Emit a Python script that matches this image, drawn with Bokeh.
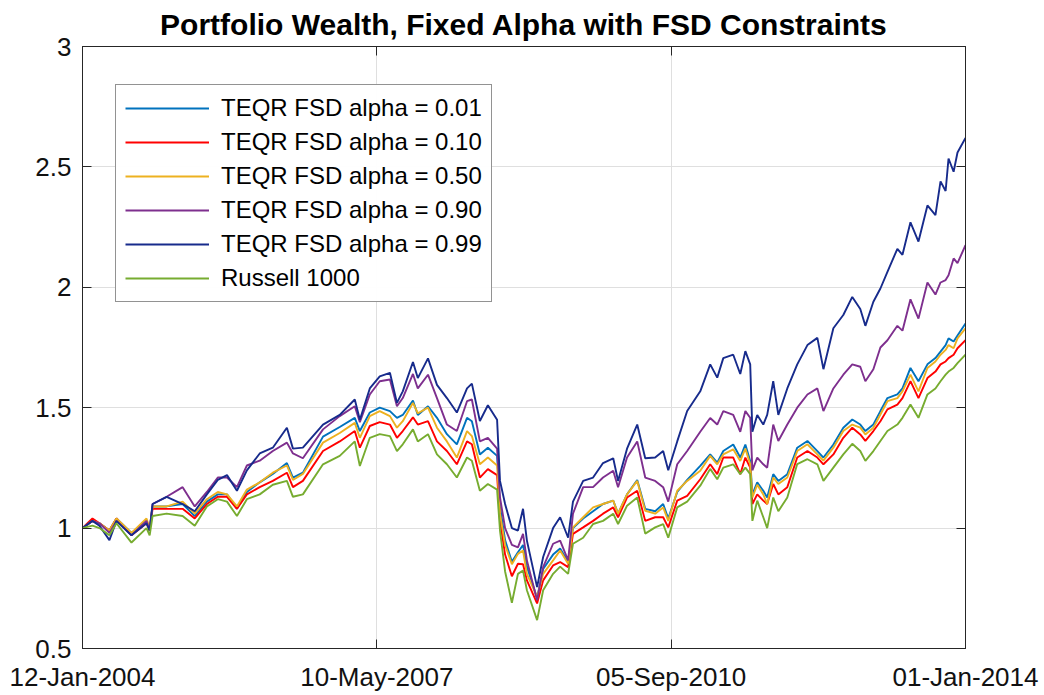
import pandas as pd
from bokeh.plotting import figure
from bokeh.models import (FixedTicker, LinearAxis, DatetimeAxis, CustomJSTickFormatter,
                          DatetimeTickFormatter, Legend, LegendItem, Range1d)
from bokeh.embed import file_html
from bokeh.resources import INLINE

# ---------------- data ----------------
dates = [
    "2004-01-12", "2004-02-22", "2004-03-22", "2004-05-02", "2004-05-31", "2004-08-01",
    "2004-10-02", "2004-10-15", "2004-10-27", "2004-12-24", "2005-02-28", "2005-04-19",
    "2005-06-08", "2005-07-23", "2005-08-30", "2005-10-10", "2005-11-20", "2006-01-12",
    "2006-03-07", "2006-05-04", "2006-05-29", "2006-07-09", "2006-09-30", "2006-12-08",
    "2007-02-08", "2007-03-01", "2007-04-11", "2007-05-22", "2007-07-03", "2007-08-01",
    "2007-08-25", "2007-10-06", "2007-10-26", "2007-12-07", "2008-01-13", "2008-02-23",
    "2008-04-04", "2008-05-16", "2008-06-05", "2008-07-08", "2008-08-10", "2008-09-17",
    "2008-09-29", "2008-10-20", "2008-11-17", "2008-12-12", "2009-01-02", "2009-01-18",
    "2009-03-01", "2009-03-26", "2009-05-06", "2009-06-04", "2009-07-07", "2009-07-27",
    "2009-09-07", "2009-10-18", "2009-11-28", "2010-01-09", "2010-01-29", "2010-03-07",
    "2010-04-18", "2010-05-21", "2010-07-01", "2010-08-03", "2010-08-24", "2010-09-30",
    "2010-11-10", "2011-01-03", "2011-02-13", "2011-03-14", "2011-04-08", "2011-05-19",
    "2011-06-17", "2011-07-08", "2011-07-28", "2011-08-06", "2011-08-26", "2011-09-20",
    "2011-10-06", "2011-10-31", "2011-11-21", "2011-12-28", "2012-02-07", "2012-03-20",
    "2012-04-30", "2012-05-25", "2012-07-05", "2012-08-15", "2012-09-21", "2012-10-24",
    "2012-11-14", "2012-12-17", "2013-01-15", "2013-02-13", "2013-03-26", "2013-04-16",
    "2013-05-19", "2013-06-21", "2013-07-28", "2013-08-30", "2013-09-20", "2013-10-11",
    "2013-10-23", "2013-11-13", "2013-11-29", "2014-01-01",
]

alpha_001 = [
    1.00, 1.03, 1.02, 0.99, 1.04, 0.98, 1.03, 0.99, 1.09, 1.09, 1.10, 1.05,
    1.11, 1.14, 1.14, 1.08, 1.15, 1.19, 1.225, 1.27, 1.21, 1.23, 1.38, 1.42,
    1.458, 1.403, 1.48, 1.50, 1.486, 1.458, 1.47, 1.53, 1.47, 1.506, 1.458, 1.39,
    1.348, 1.458, 1.444, 1.306, 1.334, 1.30, 1.09, 0.95, 0.86, 0.90, 0.93, 0.84,
    0.71, 0.83, 0.89, 0.915, 0.86, 1.00, 1.04, 1.07, 1.10, 1.114, 1.06, 1.14,
    1.20, 1.08, 1.07, 1.10, 1.04, 1.15, 1.20, 1.258, 1.306, 1.272, 1.32, 1.347,
    1.293, 1.347, 1.279, 1.14, 1.19, 1.155, 1.127, 1.224, 1.196, 1.224, 1.334, 1.362,
    1.32, 1.293, 1.347, 1.417, 1.451, 1.43, 1.403, 1.43, 1.486, 1.54, 1.555, 1.58,
    1.665, 1.61, 1.68, 1.706, 1.733, 1.76, 1.788, 1.775, 1.80, 1.85,
]
alpha_010 = [
    1.00, 1.04, 1.02, 0.99, 1.04, 0.97, 1.02, 0.99, 1.08, 1.08, 1.08, 1.04,
    1.10, 1.13, 1.13, 1.08, 1.14, 1.17, 1.196, 1.23, 1.17, 1.196, 1.32, 1.36,
    1.403, 1.334, 1.424, 1.44, 1.43, 1.375, 1.403, 1.46, 1.43, 1.444, 1.36, 1.32,
    1.265, 1.36, 1.348, 1.21, 1.245, 1.22, 1.03, 0.89, 0.80, 0.852, 0.85, 0.783,
    0.687, 0.783, 0.845, 0.859, 0.838, 0.976, 1.003, 1.03, 1.06, 1.086, 1.045, 1.127,
    1.155, 1.03, 1.045, 1.045, 1.003, 1.114, 1.134, 1.203, 1.265, 1.224, 1.293, 1.293,
    1.224, 1.293, 1.251, 1.10, 1.14, 1.114, 1.10, 1.183, 1.14, 1.17, 1.293, 1.32,
    1.293, 1.265, 1.306, 1.375, 1.417, 1.389, 1.362, 1.403, 1.444, 1.493, 1.513, 1.54,
    1.61, 1.54, 1.623, 1.65, 1.68, 1.692, 1.706, 1.72, 1.747, 1.78,
]
alpha_050 = [
    1.00, 1.03, 1.02, 0.99, 1.04, 0.98, 1.04, 1.00, 1.09, 1.09, 1.11, 1.06,
    1.12, 1.15, 1.14, 1.09, 1.16, 1.19, 1.23, 1.26, 1.20, 1.225, 1.355, 1.395,
    1.437, 1.375, 1.465, 1.486, 1.465, 1.417, 1.444, 1.52, 1.477, 1.50, 1.417, 1.36,
    1.293, 1.403, 1.382, 1.265, 1.293, 1.26, 1.06, 0.93, 0.85, 0.893, 0.907, 0.81,
    0.714, 0.81, 0.866, 0.907, 0.852, 1.003, 1.045, 1.086, 1.10, 1.114, 1.06, 1.14,
    1.196, 1.072, 1.06, 1.086, 1.03, 1.155, 1.196, 1.238, 1.30, 1.265, 1.306, 1.327,
    1.279, 1.33, 1.265, 1.127, 1.18, 1.14, 1.10, 1.21, 1.183, 1.21, 1.32, 1.348,
    1.306, 1.28, 1.334, 1.403, 1.43, 1.417, 1.389, 1.417, 1.472, 1.527, 1.54, 1.568,
    1.637, 1.568, 1.665, 1.692, 1.72, 1.74, 1.76, 1.747, 1.788, 1.83,
]
alpha_090 = [
    1.00, 1.03, 1.02, 0.98, 1.03, 0.97, 1.03, 0.99, 1.10, 1.13, 1.17, 1.09,
    1.15, 1.21, 1.21, 1.17, 1.26, 1.28, 1.32, 1.355, 1.31, 1.29, 1.41, 1.465,
    1.506, 1.44, 1.555, 1.61, 1.617, 1.506, 1.54, 1.64, 1.58, 1.637, 1.54, 1.43,
    1.403, 1.527, 1.534, 1.36, 1.375, 1.33, 1.127, 1.00, 0.93, 0.92, 0.976, 0.866,
    0.70, 0.838, 0.935, 0.948, 0.866, 1.06, 1.17, 1.17, 1.21, 1.238, 1.17, 1.293,
    1.36, 1.21, 1.196, 1.17, 1.11, 1.265, 1.32, 1.40, 1.457, 1.43, 1.486, 1.47,
    1.40, 1.486, 1.458, 1.24, 1.293, 1.265, 1.251, 1.43, 1.362, 1.43, 1.50, 1.555,
    1.58, 1.486, 1.58, 1.637, 1.68, 1.67, 1.61, 1.66, 1.75, 1.78, 1.84, 1.82,
    1.95, 1.87, 2.02, 1.97, 2.02, 2.03, 2.05, 2.12, 2.10, 2.175,
]
alpha_099 = [
    1.00, 1.03, 1.01, 0.95, 1.03, 0.97, 1.02, 0.99, 1.10, 1.13, 1.10, 1.07,
    1.14, 1.20, 1.22, 1.155, 1.24, 1.31, 1.334, 1.417, 1.33, 1.334, 1.43, 1.47,
    1.534, 1.45, 1.58, 1.63, 1.645, 1.52, 1.568, 1.69, 1.623, 1.705, 1.595, 1.54,
    1.48, 1.58, 1.60, 1.445, 1.51, 1.45, 1.196, 1.10, 1.00, 0.99, 1.08, 0.948,
    0.755, 0.88, 1.00, 1.045, 0.96, 1.11, 1.196, 1.21, 1.27, 1.29, 1.196, 1.33,
    1.43, 1.29, 1.293, 1.32, 1.24, 1.36, 1.486, 1.568, 1.68, 1.625, 1.706, 1.72,
    1.64, 1.735, 1.68, 1.40, 1.47, 1.43, 1.47, 1.61, 1.47, 1.58, 1.68, 1.76,
    1.79, 1.66, 1.83, 1.885, 1.96, 1.91, 1.84, 1.94, 1.995, 2.064, 2.16, 2.135,
    2.27, 2.19, 2.34, 2.30, 2.44, 2.40, 2.535, 2.48, 2.56, 2.62,
]
russell_1000 = [
    1.00, 1.01, 1.00, 0.97, 1.02, 0.94, 1.00, 0.97, 1.05, 1.06, 1.05, 1.01,
    1.09, 1.12, 1.11, 1.05, 1.12, 1.14, 1.18, 1.196, 1.13, 1.14, 1.265, 1.30,
    1.36, 1.258, 1.375, 1.39, 1.382, 1.32, 1.348, 1.41, 1.36, 1.39, 1.306, 1.265,
    1.21, 1.293, 1.28, 1.155, 1.183, 1.16, 0.99, 0.82, 0.69, 0.81, 0.824, 0.742,
    0.618, 0.742, 0.81, 0.84, 0.81, 0.935, 0.96, 1.017, 1.03, 1.06, 1.017, 1.093,
    1.127, 0.977, 1.003, 1.017, 0.96, 1.086, 1.11, 1.176, 1.246, 1.203, 1.251, 1.265,
    1.224, 1.251, 1.224, 1.03, 1.114, 1.045, 1.00, 1.127, 1.07, 1.127, 1.266, 1.286,
    1.265, 1.196, 1.251, 1.306, 1.35, 1.32, 1.279, 1.32, 1.362, 1.403, 1.43, 1.458,
    1.513, 1.458, 1.555, 1.58, 1.61, 1.637, 1.65, 1.665, 1.685, 1.72,
]

series_names = ["TEQR FSD alpha = 0.01", "TEQR FSD alpha = 0.10", "TEQR FSD alpha = 0.50",
                "TEQR FSD alpha = 0.90", "TEQR FSD alpha = 0.99", "Russell 1000"]
series_values = [alpha_001, alpha_010, alpha_050, alpha_090, alpha_099, russell_1000]
series_colors = ["#0072BD", "#FF0000", "#EDB120", "#7E2F8E", "#172B8C", "#77AC30"]

tick_dates = ["2004-01-12", "2007-05-10", "2010-09-05", "2014-01-01"]
tick_labels = ["12-Jan-2004", "10-May-2007", "05-Sep-2010", "01-Jan-2014"]
y_ticks = [0.5, 1, 1.5, 2, 2.5, 3]

# ---------------- figure ----------------
x = pd.to_datetime(dates)
tick_ms = [int(pd.Timestamp(d).value // 10**6) for d in tick_dates]

FONT = "Liberation Sans"
DARK = "#262626"

p = figure(width=1044, height=695, x_axis_type="datetime",
           output_backend="svg", toolbar_location=None,
           x_range=Range1d(tick_ms[0], tick_ms[-1]), y_range=Range1d(y_ticks[0], y_ticks[-1]),
           min_border_left=82, min_border_right=79, min_border_top=45, min_border_bottom=47)

p.title.text = "Portfolio Wealth, Fixed Alpha with FSD Constraints"
p.title.align = "center"
p.title.text_font = FONT
p.title.text_font_style = "bold"
p.title.text_font_size = "30px"
p.title.text_color = "#000000"
p.title.offset = 0
p.title.standoff = 11

xticker = FixedTicker(ticks=tick_ms)
yticker = FixedTicker(ticks=y_ticks)

p.xaxis.ticker = xticker
p.xaxis.formatter = DatetimeTickFormatter(days="%d-%b-%Y", months="%d-%b-%Y", years="%d-%b-%Y")
p.xaxis.major_label_overrides = {t: lab for t, lab in zip(tick_ms, tick_labels)}
p.yaxis.ticker = yticker
p.yaxis.formatter = CustomJSTickFormatter(code="return tick.toString();")

for ax in [p.xaxis[0], p.yaxis[0]]:
    ax.major_tick_in = 9
    ax.major_tick_out = 0
    ax.minor_tick_line_color = None
    ax.axis_line_color = DARK
    ax.major_tick_line_color = DARK
    ax.major_label_text_color = "#111111"
    ax.major_label_text_font = FONT
    ax.major_label_text_font_size = "26px"
p.xaxis.major_label_standoff = 13
p.yaxis.major_label_standoff = 11

# mirrored axes (box with ticks on all sides); their labels are not painted
right_ax = LinearAxis(ticker=yticker, major_label_text_font_size="1px",
                      major_label_text_color=None, major_label_standoff=0)
top_ax = DatetimeAxis(ticker=xticker, major_label_text_font_size="1px",
                      major_label_text_color=None, major_label_standoff=0)
for ax in [right_ax, top_ax]:
    ax.major_tick_in = 9
    ax.major_tick_out = 0
    ax.minor_tick_line_color = None
    ax.axis_line_color = DARK
    ax.major_tick_line_color = DARK
p.add_layout(right_ax, "right")
p.add_layout(top_ax, "above")

p.xgrid.ticker = xticker
p.ygrid.ticker = yticker
p.xgrid.grid_line_color = "#DFDFDF"
p.ygrid.grid_line_color = "#DFDFDF"
p.outline_line_color = DARK
p.background_fill_color = "white"
p.border_fill_color = "white"

items = []
for name, vals, col in zip(series_names, series_values, series_colors):
    r = p.line(x, vals, line_color=col, line_width=1.9)
    items.append(LegendItem(label=name, renderers=[r]))

legend = Legend(items=items, location=(33, 346))
legend.label_text_font = FONT
legend.label_text_font_size = "24px"
legend.label_text_color = "#000000"
legend.glyph_width = 84
legend.glyph_height = 24
legend.label_height = 24
legend.spacing = 6
legend.padding = 9
legend.margin = 0
legend.label_standoff = 12
legend.border_line_color = DARK
legend.border_line_width = 1
legend.background_fill_color = "white"
p.add_layout(legend, "center")

open("out.html", "w").write(file_html(p, INLINE))
